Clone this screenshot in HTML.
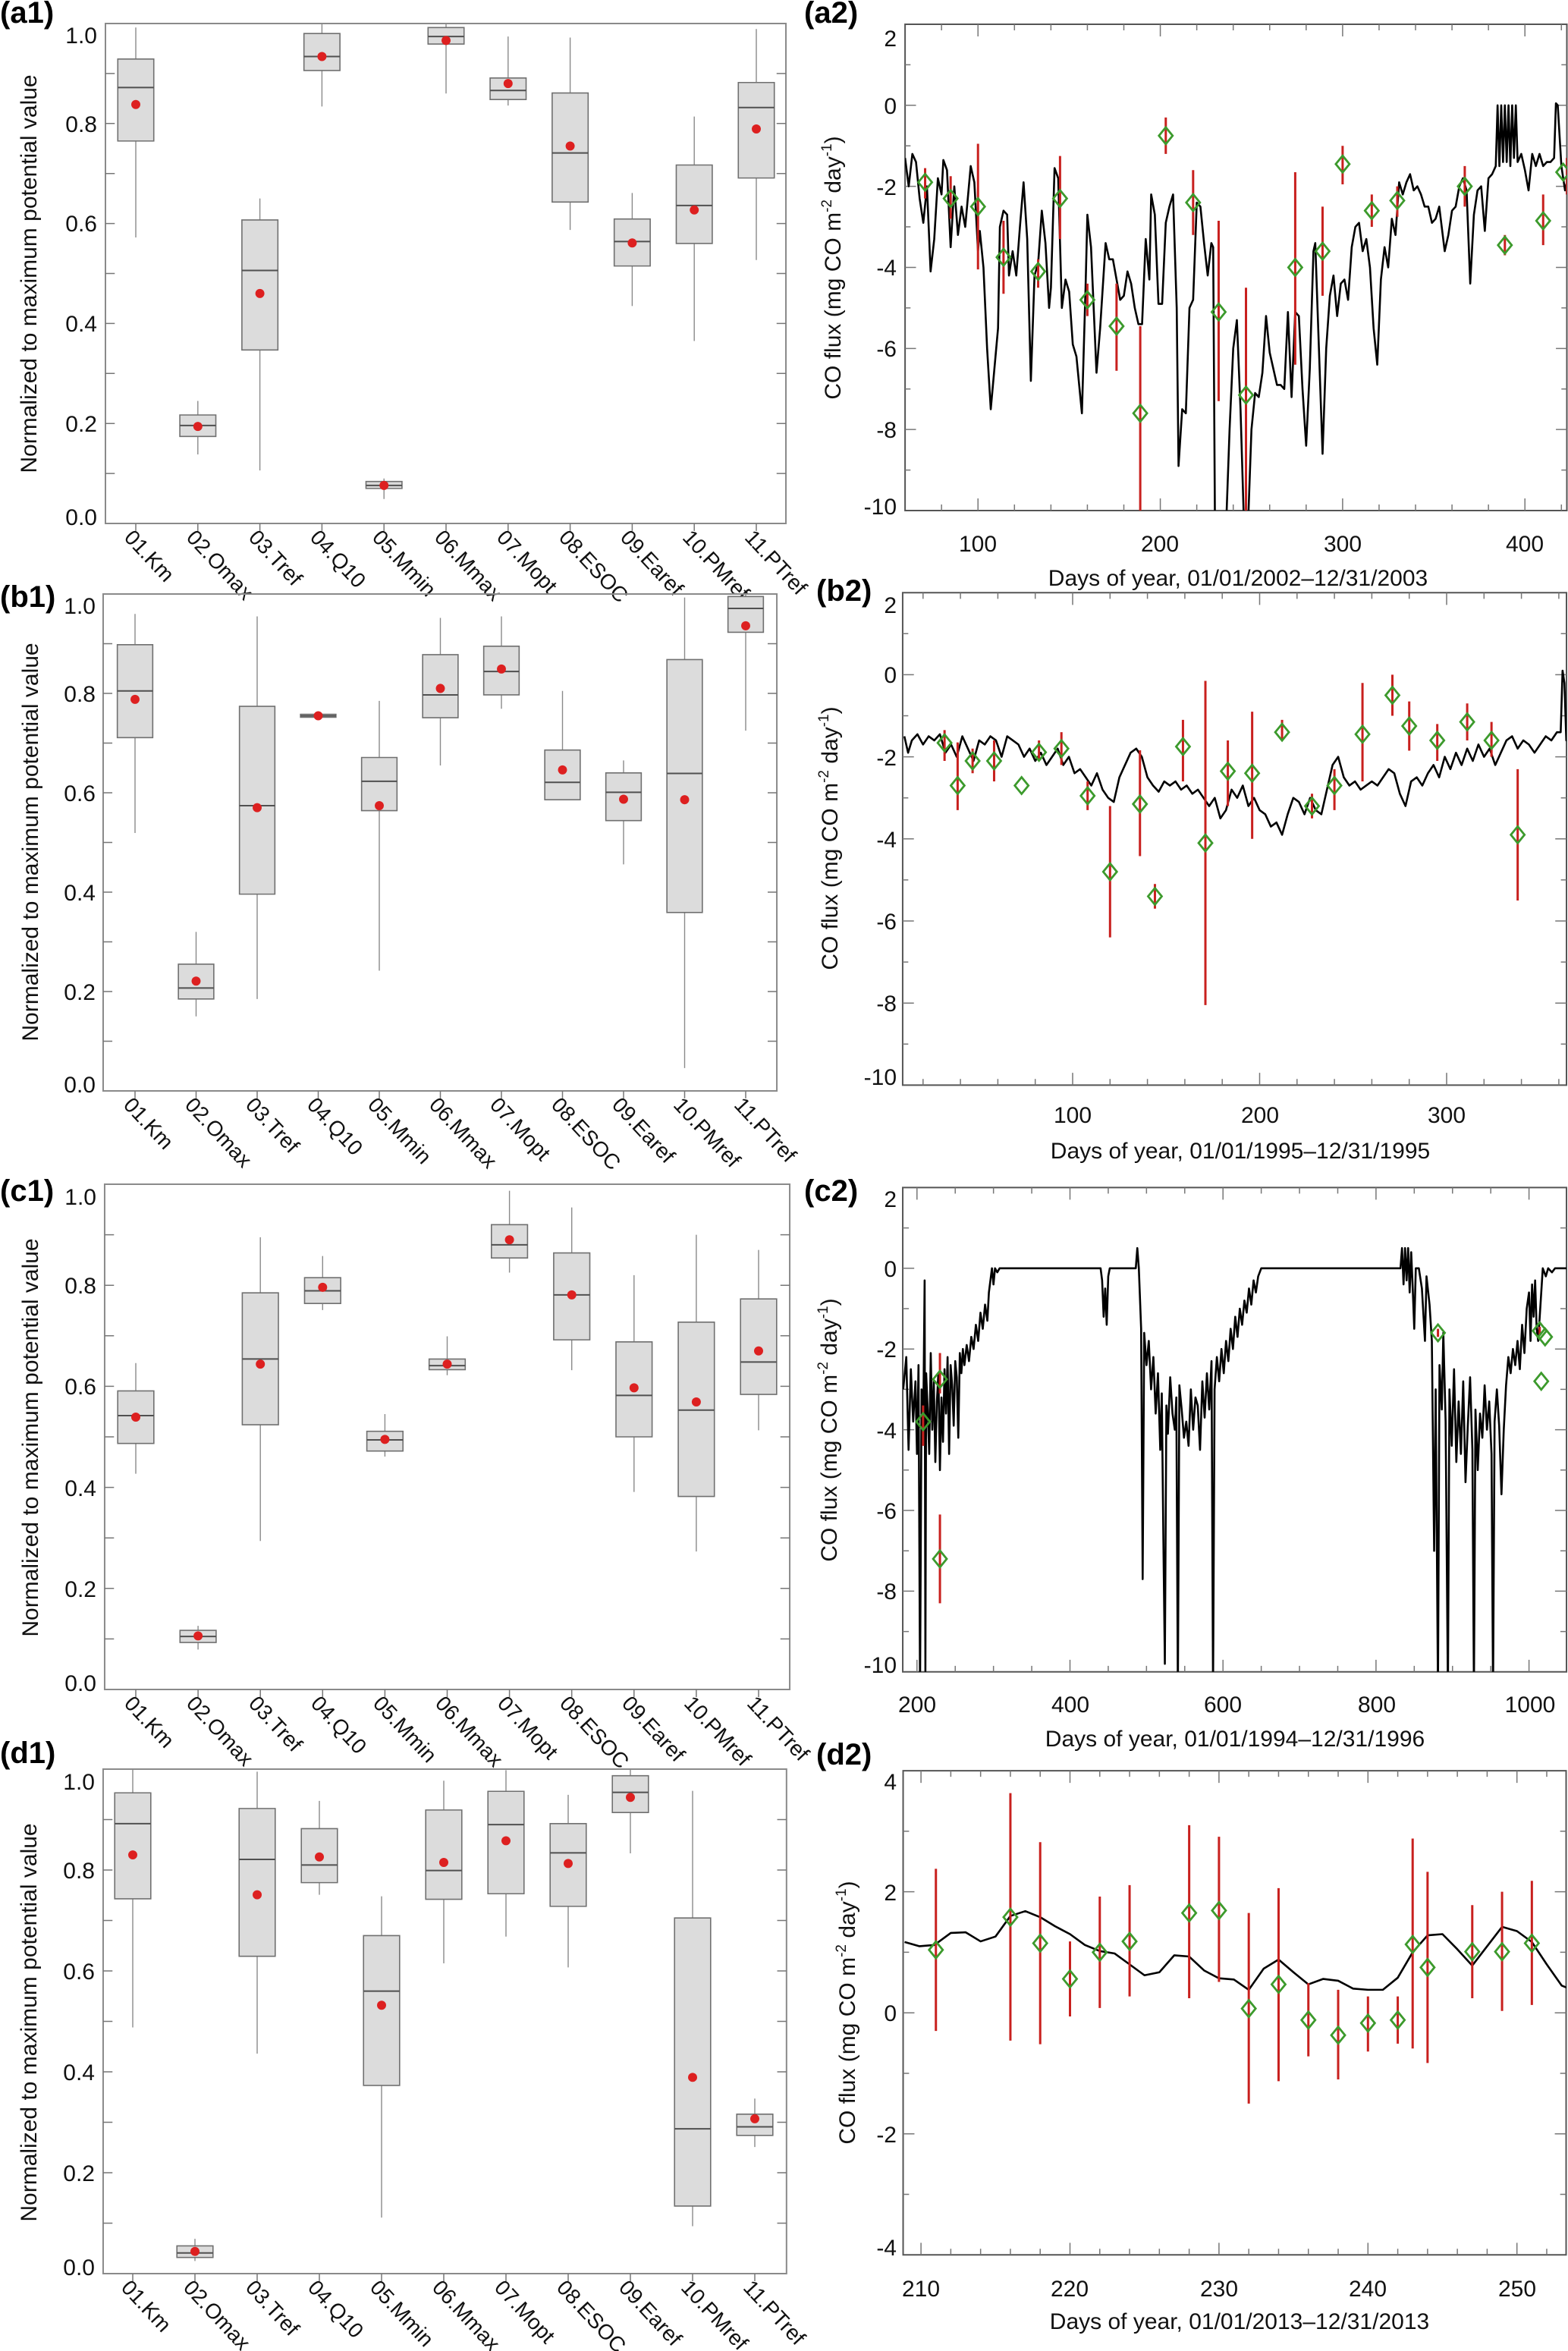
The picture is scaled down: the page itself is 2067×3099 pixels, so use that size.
<!DOCTYPE html>
<html><head><meta charset="utf-8"><style>
html,body{margin:0;padding:0;background:#fff;}
svg{display:block;font-family:"Liberation Sans",Arial,sans-serif;}
.fr{fill:none;stroke:#8a8a8a;stroke-width:2;vector-effect:non-scaling-stroke;}
.frk{fill:none;stroke:#555;stroke-width:2;vector-effect:non-scaling-stroke;}
.tk{fill:none;stroke:#777;stroke-width:1.5;vector-effect:non-scaling-stroke;}
.w{fill:none;stroke:#8a8a8a;stroke-width:1.4;vector-effect:non-scaling-stroke;}
.b{fill:#dcdcdc;stroke:#707070;stroke-width:1.6;vector-effect:non-scaling-stroke;}
.m{fill:none;stroke:#505050;stroke-width:2;vector-effect:non-scaling-stroke;}
.d{fill:#dd2020;}
.ln{fill:none;stroke:#000;stroke-width:2.6;stroke-linejoin:round;vector-effect:non-scaling-stroke;}
.er{fill:none;stroke:#c8201e;stroke-width:3;vector-effect:non-scaling-stroke;}
.dm{fill:none;stroke:#3c9a2c;stroke-width:2.8;vector-effect:non-scaling-stroke;}
.yl{font-size:30px;text-anchor:end;fill:#111;}
.xl{font-size:30px;text-anchor:middle;fill:#111;}
.cl{font-size:28px;fill:#111;}
.tt{font-size:30px;text-anchor:middle;fill:#111;}
.pl{font-size:40px;font-weight:bold;fill:#000;}
</style></head><body>
<svg width="2067" height="3099" viewBox="0 0 2067 3099" xmlns="http://www.w3.org/2000/svg">
<defs>
<clipPath id="ca2" clipPathUnits="userSpaceOnUse"><rect x="60" y="-10" width="363" height="12"/></clipPath>
<clipPath id="cb2" clipPathUnits="userSpaceOnUse"><rect x="9.1" y="-10" width="355" height="12"/></clipPath>
<clipPath id="cc2" clipPathUnits="userSpaceOnUse"><rect x="181.4" y="-10" width="867.6" height="12"/></clipPath>
<clipPath id="cd2" clipPathUnits="userSpaceOnUse"><rect x="208.8" y="-4" width="44.5" height="8"/></clipPath>
</defs>

<text class="pl" x="0" y="30">(a1)</text>
<text class="pl" x="1060" y="30">(a2)</text>
<text class="pl" x="0" y="800">(b1)</text>
<text class="pl" x="1076" y="792">(b2)</text>
<text class="pl" x="0" y="1583">(c1)</text>
<text class="pl" x="1060" y="1583">(c2)</text>
<text class="pl" x="0" y="2324">(d1)</text>
<text class="pl" x="1076" y="2326">(d2)</text>

<!-- A1 -->
<g transform="translate(97.2,690) scale(81.8,-659)">
<rect class="fr" x="0.511" y="0" width="10.966" height="1"/>
<path class="tk" d="M0.511,0.1h0.15M0.511,0.2h0.15M0.511,0.3h0.15M0.511,0.4h0.15M0.511,0.5h0.15M0.511,0.6h0.15M0.511,0.7h0.15M0.511,0.8h0.15M0.511,0.9h0.15M11.477,0.1h-0.15M11.477,0.2h-0.15M11.477,0.3h-0.15M11.477,0.4h-0.15M11.477,0.5h-0.15M11.477,0.6h-0.15M11.477,0.7h-0.15M11.477,0.8h-0.15M11.477,0.9h-0.15M1,0v-0.015M2,0v-0.015M3,0v-0.015M4,0v-0.015M5,0v-0.015M6,0v-0.015M7,0v-0.015M8,0v-0.015M9,0v-0.015M10,0v-0.015M11,0v-0.015"/>
<path class="w" d="M1,.572V.765M1,.929V.992 M2,.138V.174M2,.217V.245 M3,.106V.347M3,.607V.65 M4,.834V.906M4,.98V1 M5,.049V.07M5,.084V.09 M6,.86V.959M6,.992V1 M7,.836V.848M7,.891V.974 M8,.587V.643M8,.861V.972 M9,.435V.515M9,.609V.661 M10,.365V.56M10,.717V.814 M11,.527V.691M11,.882V.989"/>
<path class="b" d="M.71,.765H1.29V.929H.71Z M1.71,.174H2.29V.217H1.71Z M2.71,.347H3.29V.607H2.71Z M3.71,.906H4.29V.98H3.71Z M4.71,.07H5.29V.084H4.71Z M5.71,.959H6.29V.992H5.71Z M6.71,.848H7.29V.891H6.71Z M7.71,.643H8.29V.861H7.71Z M8.71,.515H9.29V.609H8.71Z M9.71,.56H10.29V.717H9.71Z M10.71,.691H11.29V.882H10.71Z"/>
<path class="m" d="M.71,.872h.58M1.71,.196h.58M2.71,.506h.58M3.71,.934h.58M4.71,.076h.58M5.71,.974h.58M6.71,.866h.58M7.71,.741h.58M8.71,.564h.58M9.71,.636h.58M10.71,.832h.58"/>
<g class="d"><ellipse cx="1" cy=".838" rx=".073" ry=".0091"/><ellipse cx="2" cy=".194" rx=".073" ry=".0091"/><ellipse cx="3" cy=".46" rx=".073" ry=".0091"/><ellipse cx="4" cy=".934" rx=".073" ry=".0091"/><ellipse cx="5" cy=".076" rx=".073" ry=".0091"/><ellipse cx="6" cy=".966" rx=".073" ry=".0091"/><ellipse cx="7" cy=".88" rx=".073" ry=".0091"/><ellipse cx="8" cy=".755" rx=".073" ry=".0091"/><ellipse cx="9" cy=".561" rx=".073" ry=".0091"/><ellipse cx="10" cy=".627" rx=".073" ry=".0091"/><ellipse cx="11" cy=".789" rx=".073" ry=".0091"/></g>
</g>
<g class="yl"><text x="128" y="692">0.0</text><text x="128" y="569">0.2</text><text x="128" y="437">0.4</text><text x="128" y="305">0.6</text><text x="128" y="174">0.8</text><text x="128" y="57">1.0</text></g>
<text class="tt" transform="translate(48,361) rotate(-90)">Normalized to maximum potential value</text>
<g class="cl">
<text transform="translate(177,696) rotate(47)" dy="20">01.Km</text>
<text transform="translate(259,696) rotate(47)" dy="20">02.Omax</text>
<text transform="translate(341,696) rotate(47)" dy="20">03.Tref</text>
<text transform="translate(422,696) rotate(47)" dy="20">04.Q10</text>
<text transform="translate(504,696) rotate(47)" dy="20">05.Mmin</text>
<text transform="translate(586,696) rotate(47)" dy="20">06.Mmax</text>
<text transform="translate(668,696) rotate(47)" dy="20">07.Mopt</text>
<text transform="translate(750,696) rotate(47)" dy="20">08.ESOC</text>
<text transform="translate(831,696) rotate(47)" dy="20">09.Earef</text>
<text transform="translate(913,696) rotate(47)" dy="20">10.PMref</text>
<text transform="translate(995,696) rotate(47)" dy="20">11.PTref</text>
</g>

<!-- B1 -->
<g transform="translate(97.5,1438) scale(80.5,-655)">
<rect class="fr" x="0.478" y="0" width="11.032" height="1"/>
<path class="tk" d="M0.478,0.1h0.15M0.478,0.2h0.15M0.478,0.3h0.15M0.478,0.4h0.15M0.478,0.5h0.15M0.478,0.6h0.15M0.478,0.7h0.15M0.478,0.8h0.15M0.478,0.9h0.15M11.51,0.1h-0.15M11.51,0.2h-0.15M11.51,0.3h-0.15M11.51,0.4h-0.15M11.51,0.5h-0.15M11.51,0.6h-0.15M11.51,0.7h-0.15M11.51,0.8h-0.15M11.51,0.9h-0.15M1,0v-0.015M2,0v-0.015M3,0v-0.015M4,0v-0.015M5,0v-0.015M6,0v-0.015M7,0v-0.015M8,0v-0.015M9,0v-0.015M10,0v-0.015M11,0v-0.015"/>
<path class="w" d="M1,.519V.711M1,.898V.96 M2,.15V.185M2,.255V.32 M3,.185V.396M3,.774V.955 M5,.242V.564M5,.671V.785 M6,.655V.751M6,.878V.952 M7,.769V.797M7,.895V.955 M8,.586V.586M8,.686V.805 M9,.456V.544M9,.64V.665 M10,.046V.359M10,.868V.993 M11,.725V.923M11,.995V1"/>
<path class="b" d="M.71,.711H1.29V.898H.71Z M1.71,.185H2.29V.255H1.71Z M2.71,.396H3.29V.774H2.71Z M3.71,.752H4.29V.758H3.71Z M4.71,.564H5.29V.671H4.71Z M5.71,.751H6.29V.878H5.71Z M6.71,.797H7.29V.895H6.71Z M7.71,.586H8.29V.686H7.71Z M8.71,.544H9.29V.64H8.71Z M9.71,.359H10.29V.868H9.71Z M10.71,.923H11.29V.995H10.71Z"/>
<path class="m" d="M.71,.805h.58M1.71,.207h.58M2.71,.574h.58M3.71,.755h.58M4.71,.623h.58M5.71,.797h.58M6.71,.844h.58M7.71,.621h.58M8.71,.601h.58M9.71,.639h.58M10.71,.971h.58"/>
<g class="d"><ellipse cx="1" cy=".788" rx=".074" ry=".0092"/><ellipse cx="2" cy=".221" rx=".074" ry=".0092"/><ellipse cx="3" cy=".57" rx=".074" ry=".0092"/><ellipse cx="4" cy=".755" rx=".074" ry=".0092"/><ellipse cx="5" cy=".574" rx=".074" ry=".0092"/><ellipse cx="6" cy=".81" rx=".074" ry=".0092"/><ellipse cx="7" cy=".849" rx=".074" ry=".0092"/><ellipse cx="8" cy=".646" rx=".074" ry=".0092"/><ellipse cx="9" cy=".587" rx=".074" ry=".0092"/><ellipse cx="10" cy=".586" rx=".074" ry=".0092"/><ellipse cx="11" cy=".936" rx=".074" ry=".0092"/></g>
</g>
<g class="yl"><text x="126" y="1440">0.0</text><text x="126" y="1318">0.2</text><text x="126" y="1187">0.4</text><text x="126" y="1056">0.6</text><text x="126" y="925">0.8</text><text x="126" y="809">1.0</text></g>
<text class="tt" transform="translate(50,1110) rotate(-90)">Normalized to maximum potential value</text>
<g class="cl">
<text transform="translate(176,1444) rotate(47)" dy="20">01.Km</text>
<text transform="translate(257,1444) rotate(47)" dy="20">02.Omax</text>
<text transform="translate(337,1444) rotate(47)" dy="20">03.Tref</text>
<text transform="translate(418,1444) rotate(47)" dy="20">04.Q10</text>
<text transform="translate(498,1444) rotate(47)" dy="20">05.Mmin</text>
<text transform="translate(579,1444) rotate(47)" dy="20">06.Mmax</text>
<text transform="translate(659,1444) rotate(47)" dy="20">07.Mopt</text>
<text transform="translate(740,1444) rotate(47)" dy="20">08.ESOC</text>
<text transform="translate(820,1444) rotate(47)" dy="20">09.Earef</text>
<text transform="translate(901,1444) rotate(47)" dy="20">10.PMref</text>
<text transform="translate(981,1444) rotate(47)" dy="20">11.PTref</text>
</g>

<!-- C1 -->
<g transform="translate(96.9,2227) scale(82.1,-666)">
<rect class="fr" x="0.5" y="0" width="11" height="1"/>
<path class="tk" d="M0.5,0.1h0.15M0.5,0.2h0.15M0.5,0.3h0.15M0.5,0.4h0.15M0.5,0.5h0.15M0.5,0.6h0.15M0.5,0.7h0.15M0.5,0.8h0.15M0.5,0.9h0.15M11.5,0.1h-0.15M11.5,0.2h-0.15M11.5,0.3h-0.15M11.5,0.4h-0.15M11.5,0.5h-0.15M11.5,0.6h-0.15M11.5,0.7h-0.15M11.5,0.8h-0.15M11.5,0.9h-0.15M1,0v-0.015M2,0v-0.015M3,0v-0.015M4,0v-0.015M5,0v-0.015M6,0v-0.015M7,0v-0.015M8,0v-0.015M9,0v-0.015M10,0v-0.015M11,0v-0.015"/>
<path class="w" d="M1,.427V.487M1,.591V.646 M2,.079V.093M2,.117V.126 M3,.294V.524M3,.785V.895 M4,.751V.764M4,.815V.858 M5,.461V.472M5,.511V.545 M6,.622V.633M6,.654V.699 M7,.825V.854M7,.92V.987 M8,.632V.692M8,.864V.954 M9,.391V.5M9,.688V.82 M10,.273V.382M10,.727V.9 M11,.513V.584M11,.773V.87"/>
<path class="b" d="M.71,.487H1.29V.591H.71Z M1.71,.093H2.29V.117H1.71Z M2.71,.524H3.29V.785H2.71Z M3.71,.764H4.29V.815H3.71Z M4.71,.472H5.29V.511H4.71Z M5.71,.633H6.29V.654H5.71Z M6.71,.854H7.29V.92H6.71Z M7.71,.692H8.29V.864H7.71Z M8.71,.5H9.29V.688H8.71Z M9.71,.382H10.29V.727H9.71Z M10.71,.584H11.29V.773H10.71Z"/>
<path class="m" d="M.71,.542h.58M1.71,.105h.58M2.71,.654h.58M3.71,.789h.58M4.71,.494h.58M5.71,.641h.58M6.71,.88h.58M7.71,.781h.58M8.71,.582h.58M9.71,.553h.58M10.71,.648h.58"/>
<g class="d"><ellipse cx="1" cy=".539" rx=".073" ry=".009"/><ellipse cx="2" cy=".106" rx=".073" ry=".009"/><ellipse cx="3" cy=".644" rx=".073" ry=".009"/><ellipse cx="4" cy=".796" rx=".073" ry=".009"/><ellipse cx="5" cy=".495" rx=".073" ry=".009"/><ellipse cx="6" cy=".644" rx=".073" ry=".009"/><ellipse cx="7" cy=".89" rx=".073" ry=".009"/><ellipse cx="8" cy=".781" rx=".073" ry=".009"/><ellipse cx="9" cy=".597" rx=".073" ry=".009"/><ellipse cx="10" cy=".569" rx=".073" ry=".009"/><ellipse cx="11" cy=".67" rx=".073" ry=".009"/></g>
</g>
<g class="yl"><text x="127" y="2229">0.0</text><text x="127" y="2105">0.2</text><text x="127" y="1972">0.4</text><text x="127" y="1838">0.6</text><text x="127" y="1705">0.8</text><text x="127" y="1588">1.0</text></g>
<text class="tt" transform="translate(50,1895) rotate(-90)">Normalized to maximum potential value</text>
<g class="cl">
<text transform="translate(177,2233) rotate(47)" dy="20">01.Km</text>
<text transform="translate(259,2233) rotate(47)" dy="20">02.Omax</text>
<text transform="translate(341,2233) rotate(47)" dy="20">03.Tref</text>
<text transform="translate(423,2233) rotate(47)" dy="20">04.Q10</text>
<text transform="translate(505,2233) rotate(47)" dy="20">05.Mmin</text>
<text transform="translate(587,2233) rotate(47)" dy="20">06.Mmax</text>
<text transform="translate(669,2233) rotate(47)" dy="20">07.Mopt</text>
<text transform="translate(751,2233) rotate(47)" dy="20">08.ESOC</text>
<text transform="translate(833,2233) rotate(47)" dy="20">09.Earef</text>
<text transform="translate(915,2233) rotate(47)" dy="20">10.PMref</text>
<text transform="translate(998,2233) rotate(47)" dy="20">11.PTref</text>
</g>

<!-- D1 -->
<g transform="translate(93,2997) scale(82,-665)">
<rect class="fr" x="0.524" y="0" width="10.986" height="1"/>
<path class="tk" d="M0.524,0.1h0.15M0.524,0.2h0.15M0.524,0.3h0.15M0.524,0.4h0.15M0.524,0.5h0.15M0.524,0.6h0.15M0.524,0.7h0.15M0.524,0.8h0.15M0.524,0.9h0.15M11.51,0.1h-0.15M11.51,0.2h-0.15M11.51,0.3h-0.15M11.51,0.4h-0.15M11.51,0.5h-0.15M11.51,0.6h-0.15M11.51,0.7h-0.15M11.51,0.8h-0.15M11.51,0.9h-0.15M1,0v-0.015M2,0v-0.015M3,0v-0.015M4,0v-0.015M5,0v-0.015M6,0v-0.015M7,0v-0.015M8,0v-0.015M9,0v-0.015M10,0v-0.015M11,0v-0.015"/>
<path class="w" d="M1,.488V.743M1,.953V1 M2,.025V.032M2,.055V.069 M3,.436V.629M3,.922V.995 M4,.751V.775M4,.882V.937 M5,.111V.373M5,.67V.748 M6,.615V.742M6,.919V.977 M7,.668V.753M7,.956V.998 M8,.607V.728M8,.892V.949 M9,.833V.914M9,.987V1 M10,.094V.134M10,.705V.957 M11,.251V.274M11,.316V.347"/>
<path class="b" d="M.71,.743H1.29V.953H.71Z M1.71,.032H2.29V.055H1.71Z M2.71,.629H3.29V.922H2.71Z M3.71,.775H4.29V.882H3.71Z M4.71,.373H5.29V.67H4.71Z M5.71,.742H6.29V.919H5.71Z M6.71,.753H7.29V.956H6.71Z M7.71,.728H8.29V.892H7.71Z M8.71,.914H9.29V.987H8.71Z M9.71,.134H10.29V.705H9.71Z M10.71,.274H11.29V.316H10.71Z"/>
<path class="m" d="M.71,.892h.58M1.71,.041h.58M2.71,.821h.58M3.71,.81h.58M4.71,.56h.58M5.71,.799h.58M6.71,.89h.58M7.71,.834h.58M8.71,.954h.58M9.71,.287h.58M10.71,.291h.58"/>
<g class="d"><ellipse cx="1" cy=".83" rx=".073" ry=".009"/><ellipse cx="2" cy=".044" rx=".073" ry=".009"/><ellipse cx="3" cy=".751" rx=".073" ry=".009"/><ellipse cx="4" cy=".826" rx=".073" ry=".009"/><ellipse cx="5" cy=".532" rx=".073" ry=".009"/><ellipse cx="6" cy=".815" rx=".073" ry=".009"/><ellipse cx="7" cy=".858" rx=".073" ry=".009"/><ellipse cx="8" cy=".813" rx=".073" ry=".009"/><ellipse cx="9" cy=".944" rx=".073" ry=".009"/><ellipse cx="10" cy=".389" rx=".073" ry=".009"/><ellipse cx="11" cy=".307" rx=".073" ry=".009"/></g>
</g>
<g class="yl"><text x="125" y="2999">0.0</text><text x="125" y="2875">0.2</text><text x="125" y="2742">0.4</text><text x="125" y="2609">0.6</text><text x="125" y="2476">0.8</text><text x="125" y="2359">1.0</text></g>
<text class="tt" transform="translate(48,2666) rotate(-90)">Normalized to maximum potential value</text>
<g class="cl">
<text transform="translate(173,3003) rotate(47)" dy="20">01.Km</text>
<text transform="translate(255,3003) rotate(47)" dy="20">02.Omax</text>
<text transform="translate(337,3003) rotate(47)" dy="20">03.Tref</text>
<text transform="translate(419,3003) rotate(47)" dy="20">04.Q10</text>
<text transform="translate(501,3003) rotate(47)" dy="20">05.Mmin</text>
<text transform="translate(583,3003) rotate(47)" dy="20">06.Mmax</text>
<text transform="translate(665,3003) rotate(47)" dy="20">07.Mopt</text>
<text transform="translate(747,3003) rotate(47)" dy="20">08.ESOC</text>
<text transform="translate(829,3003) rotate(47)" dy="20">09.Earef</text>
<text transform="translate(911,3003) rotate(47)" dy="20">10.PMref</text>
<text transform="translate(993,3003) rotate(47)" dy="20">11.PTref</text>
</g>

<!-- A2 -->
<g transform="translate(1048.9,138.8) scale(2.4033,-53.42)">
<rect class="frk" x="60" y="-10" width="363" height="12"/>
<path class="tk" d="M100,-10v0.3M200,-10v0.3M300,-10v0.3M400,-10v0.3M100,2v-0.3M200,2v-0.3M300,2v-0.3M400,2v-0.3M80,-10v0.15M120,-10v0.15M140,-10v0.15M160,-10v0.15M180,-10v0.15M220,-10v0.15M240,-10v0.15M260,-10v0.15M280,-10v0.15M320,-10v0.15M340,-10v0.15M360,-10v0.15M380,-10v0.15M420,-10v0.15M80,2v-0.15M120,2v-0.15M140,2v-0.15M160,2v-0.15M180,2v-0.15M220,2v-0.15M240,2v-0.15M260,2v-0.15M280,2v-0.15M320,2v-0.15M340,2v-0.15M360,2v-0.15M380,2v-0.15M420,2v-0.15M60,0h6M60,-2h6M60,-4h6M60,-6h6M60,-8h6M60,1h3M60,-1h3M60,-3h3M60,-5h3M60,-7h3M60,-9h3M423,0h-6M423,-2h-6M423,-4h-6M423,-6h-6M423,-8h-6M423,1h-3M423,-1h-3M423,-3h-3M423,-5h-3M423,-7h-3M423,-9h-3"/>
<g clip-path="url(#ca2)">
<polyline class="ln" points="60,-1.3 62,-2 64,-1.2 66,-1.4 68,-2.3 70,-2.9 72,-2 74,-4.1 76,-3.3 78,-1.8 80,-2.2 81,-1.35 83,-1.6 85,-3.5 87,-2 89,-3.2 91,-2.5 93,-3 96,-1.5 98,-1.9 100,-3.6 101,-3.1 103,-4 105,-6 107,-7.5 109,-6.5 111,-5.5 112,-3 114,-2.6 116,-2.7 117,-4.2 119,-3.6 121,-4.2 123,-3 125,-1.9 127,-3.3 129,-6.8 131,-4.2 133,-3.9 135,-2.6 137,-3.4 139,-5 140,-4.5 142,-1.55 144,-1.8 146,-5 148,-4.3 150,-4.6 152,-5.9 154,-6.2 157,-7.6 159,-4.5 160,-2.7 162,-3.5 165,-6.6 167,-5.5 170,-3.4 172,-3.8 174,-3.8 176,-4.3 178,-4.8 180,-4.7 182,-4.1 184,-4.4 186,-5 188,-5.4 190,-5.4 192,-3.3 194,-4.3 195,-2.2 197,-2.7 199,-4.9 201,-4.9 203,-2.9 205,-2.5 207,-2.2 209,-5 210,-8.9 212,-7.5 214,-7.6 216,-5 218,-4.8 220,-2.4 222,-2.5 224,-3.4 226,-4.2 228,-3.4 229,-3.5 230,-10.5 232,-10.5 234,-10.5 236,-10.5 238,-8 240,-6 242,-5.3 244,-7.5 246,-10.5 248,-10.5 250,-8 252,-7.1 254,-7.2 256,-6.6 258,-5.2 260,-6.1 262,-6.5 264,-6.9 266,-6.9 268,-7 270,-5.1 272,-7.2 274,-5.1 276,-5.2 278,-7 280,-8.4 282,-6.5 284,-3.6 285,-3.4 287,-6 289,-8.6 291,-6 293,-4.7 295,-4.2 297,-5.2 299,-4.4 301,-4.3 303,-4.8 305,-3.5 307,-3 309,-2.9 311,-3.6 313,-3.3 315,-4 317,-5.5 319,-6.4 321,-4.3 323,-3.5 325,-4 327,-2.8 329,-3.2 331,-1.9 333,-2.2 335,-1.9 337,-1.7 339,-2.1 341,-2 343,-2.2 345,-2.5 347,-2.5 349,-2.9 351,-2.8 353,-2.5 356,-3.6 358,-3.2 360,-2.6 362,-2.5 364,-2 366,-1.8 368,-2.1 370,-4.4 372,-2.7 374,-2.1 376,-2 378,-3.1 380,-1.8 382,-1.7 384,-1.5 385,0 386,-1.5 387,0 388,-1.4 389,0 390,-1.4 391,0 392,-1.5 393,0 394,-1.3 395,0 396,-1.4 398,-1.2 400,-1.6 402,-2.1 404,-1.2 406,-1.5 408,-1.2 410,-1.5 412,-1.4 414,-1.4 416,-1.3 417,0.05 418,0 420,-1.5 422,-2.1 424,-1.7 426,-1.8"/>
<path class="er" d="M71,-1.55V-2.3M85,-1.75V-2.8M100,-0.95V-4.05M114,-2.85V-4.65M133,-3.8V-4.5M145,-1.25V-3.3M160,-4.4V-5.2M176,-4.4V-6.55M189,-5.45V-10M203,-0.3V-1.2M218,-1.6V-3.2M232,-2.85V-7.3M247,-4.5V-10M274,-1.65V-6.4M289,-2.5V-4.7M300,-1V-1.95M316,-2.2V-3M330,-2V-2.75M367,-1.5V-2.5M389,-3.2V-3.7M410,-2.2V-3.45M423,-1.3V-2.2"/>
<path class="dm" d="M71,-1.9m-3.75,0l3.75,0.206l3.75,-0.206l-3.75,-0.206z M85,-2.3m-3.75,0l3.75,0.206l3.75,-0.206l-3.75,-0.206z M100,-2.5m-3.75,0l3.75,0.206l3.75,-0.206l-3.75,-0.206z M114,-3.75m-3.75,0l3.75,0.206l3.75,-0.206l-3.75,-0.206z M133,-4.1m-3.75,0l3.75,0.206l3.75,-0.206l-3.75,-0.206z M145,-2.3m-3.75,0l3.75,0.206l3.75,-0.206l-3.75,-0.206z M160,-4.8m-3.75,0l3.75,0.206l3.75,-0.206l-3.75,-0.206z M176,-5.45m-3.75,0l3.75,0.206l3.75,-0.206l-3.75,-0.206z M189,-7.6m-3.75,0l3.75,0.206l3.75,-0.206l-3.75,-0.206z M203,-0.75m-3.75,0l3.75,0.206l3.75,-0.206l-3.75,-0.206z M218,-2.4m-3.75,0l3.75,0.206l3.75,-0.206l-3.75,-0.206z M232,-5.1m-3.75,0l3.75,0.206l3.75,-0.206l-3.75,-0.206z M247,-7.15m-3.75,0l3.75,0.206l3.75,-0.206l-3.75,-0.206z M274,-4m-3.75,0l3.75,0.206l3.75,-0.206l-3.75,-0.206z M289,-3.6m-3.75,0l3.75,0.206l3.75,-0.206l-3.75,-0.206z M300,-1.45m-3.75,0l3.75,0.206l3.75,-0.206l-3.75,-0.206z M316,-2.6m-3.75,0l3.75,0.206l3.75,-0.206l-3.75,-0.206z M330,-2.35m-3.75,0l3.75,0.206l3.75,-0.206l-3.75,-0.206z M367,-2m-3.75,0l3.75,0.206l3.75,-0.206l-3.75,-0.206z M389,-3.45m-3.75,0l3.75,0.206l3.75,-0.206l-3.75,-0.206z M410,-2.85m-3.75,0l3.75,0.206l3.75,-0.206l-3.75,-0.206z M421,-1.65m-3.75,0l3.75,0.206l3.75,-0.206l-3.75,-0.206z"/>
</g>
</g>
<g class="yl"><text x="1182" y="61">2</text><text x="1182" y="150">0</text><text x="1182" y="257">-2</text><text x="1182" y="363">-4</text><text x="1182" y="470">-6</text><text x="1182" y="577">-8</text><text x="1182" y="678">-10</text></g>
<g class="xl"><text x="1289" y="727">100</text><text x="1529" y="727">200</text><text x="1770" y="727">300</text><text x="2010" y="727">400</text></g>
<text class="tt" x="1632" y="772">Days of year, 01/01/2002–12/31/2003</text>
<text class="tt" transform="translate(1108,353) rotate(-90)">CO flux (mg CO m<tspan dy="-12" font-size="19">-2</tspan><tspan dy="12"> day</tspan><tspan dy="-12" font-size="19">-1</tspan><tspan dy="12">)</tspan></text>

<!-- B2 -->
<g transform="translate(1167.5,889.4) scale(2.465,-54.1)">
<rect class="frk" x="9.1" y="-10" width="355" height="12"/>
<path class="tk" d="M100,-10v0.3M200,-10v0.3M300,-10v0.3M100,2v-0.3M200,2v-0.3M300,2v-0.3M20,-10v0.15M40,-10v0.15M60,-10v0.15M80,-10v0.15M120,-10v0.15M140,-10v0.15M160,-10v0.15M180,-10v0.15M220,-10v0.15M240,-10v0.15M260,-10v0.15M280,-10v0.15M320,-10v0.15M340,-10v0.15M360,-10v0.15M20,2v-0.15M40,2v-0.15M60,2v-0.15M80,2v-0.15M120,2v-0.15M140,2v-0.15M160,2v-0.15M180,2v-0.15M220,2v-0.15M240,2v-0.15M260,2v-0.15M280,2v-0.15M320,2v-0.15M340,2v-0.15M360,2v-0.15M9.1,0h6M9.1,-2h6M9.1,-4h6M9.1,-6h6M9.1,-8h6M9.1,1h3M9.1,-1h3M9.1,-3h3M9.1,-5h3M9.1,-7h3M9.1,-9h3M364.1,0h-6M364.1,-2h-6M364.1,-4h-6M364.1,-6h-6M364.1,-8h-6M364.1,1h-3M364.1,-1h-3M364.1,-3h-3M364.1,-5h-3M364.1,-7h-3M364.1,-9h-3"/>
<g clip-path="url(#cb2)">
<polyline class="ln" points="10,-1.5 12,-1.9 14,-1.6 17,-1.45 20,-1.7 23,-1.5 26,-1.6 29,-1.45 32,-1.9 35,-1.7 38,-2 41,-1.5 44,-1.8 47,-2.1 50,-1.6 53,-1.7 56,-1.5 59,-1.6 62,-2 65,-1.5 68,-1.6 71,-1.7 74,-2 77,-1.8 80,-2.1 83,-1.9 86,-2.2 89,-2 92,-1.8 95,-2.2 98,-2 101,-2.4 104,-2.3 107,-2.5 110,-2.7 113,-2.4 116,-2.8 119,-3 122,-3.1 125,-2.5 128,-2.2 131,-1.9 134,-1.8 137,-2 140,-2.5 143,-2.7 146,-2.85 149,-2.6 152,-2.7 155,-2.6 158,-2.8 161,-2.7 164,-2.9 167,-2.8 170,-3 173,-3.2 176,-3 179,-3.5 182,-3.3 185,-2.8 188,-3 191,-2.7 194,-3.2 197,-3 200,-3.3 203,-3.4 206,-3.7 209,-3.6 212,-3.9 215,-3.4 218,-3 221,-3.1 224,-3.4 227,-3 230,-3.3 233,-3.4 236,-2.8 239,-2.2 242,-2 245,-2.5 248,-2.7 251,-2.6 254,-2.8 257,-2.7 260,-2.6 263,-2.7 266,-2.5 269,-2.3 272,-2.4 275,-2.9 278,-3.2 281,-2.6 284,-2.5 287,-2.7 290,-2.4 293,-2.2 296,-2.5 299,-2 302,-2.3 305,-1.9 308,-2.2 311,-1.8 314,-2.1 317,-1.7 320,-2 323,-1.8 326,-2.2 329,-1.9 332,-1.6 335,-1.5 338,-1.8 341,-1.6 344,-1.7 347,-1.9 350,-1.7 353,-1.5 356,-1.6 359,-1.4 361,-1.4 362,0.1 363,-0.2 364,-1.6 366,-1.6"/>
<path class="er" d="M31.5,-1.35V-2.1M38.5,-1.65V-3.3M46.5,-1.8V-2.4M58,-1.6V-2.6M82,-1.6V-2.1M94,-1.4V-2.2M108,-2.6V-3.3M120,-3.2V-6.4M136,-1.84V-4.42M144,-5.1V-5.7M159,-1.1V-2.6M171,-0.15V-8.05M183,-1.6V-3.2M196,-0.9V-4M212,-1.1V-1.6M228,-2.9V-3.5M240,-2.3V-3.3M255,-0.2V-2.6M271,0V-1M280,-0.65V-1.85M295,-1.2V-2.1M311,-0.7V-1.6M324,-1.15V-2M338,-2.3V-5.5"/>
<path class="dm" d="M31.5,-1.66m-3.65,0l3.65,0.203l3.65,-0.203l-3.65,-0.203z M38.5,-2.7m-3.65,0l3.65,0.203l3.65,-0.203l-3.65,-0.203z M46.5,-2.1m-3.65,0l3.65,0.203l3.65,-0.203l-3.65,-0.203z M58,-2.1m-3.65,0l3.65,0.203l3.65,-0.203l-3.65,-0.203z M72.7,-2.7m-3.65,0l3.65,0.203l3.65,-0.203l-3.65,-0.203z M82,-1.89m-3.65,0l3.65,0.203l3.65,-0.203l-3.65,-0.203z M94,-1.8m-3.65,0l3.65,0.203l3.65,-0.203l-3.65,-0.203z M108,-2.95m-3.65,0l3.65,0.203l3.65,-0.203l-3.65,-0.203z M120,-4.8m-3.65,0l3.65,0.203l3.65,-0.203l-3.65,-0.203z M136,-3.15m-3.65,0l3.65,0.203l3.65,-0.203l-3.65,-0.203z M144,-5.4m-3.65,0l3.65,0.203l3.65,-0.203l-3.65,-0.203z M159,-1.75m-3.65,0l3.65,0.203l3.65,-0.203l-3.65,-0.203z M171,-4.1m-3.65,0l3.65,0.203l3.65,-0.203l-3.65,-0.203z M183,-2.35m-3.65,0l3.65,0.203l3.65,-0.203l-3.65,-0.203z M196,-2.4m-3.65,0l3.65,0.203l3.65,-0.203l-3.65,-0.203z M212,-1.4m-3.65,0l3.65,0.203l3.65,-0.203l-3.65,-0.203z M228,-3.2m-3.65,0l3.65,0.203l3.65,-0.203l-3.65,-0.203z M240,-2.7m-3.65,0l3.65,0.203l3.65,-0.203l-3.65,-0.203z M255,-1.45m-3.65,0l3.65,0.203l3.65,-0.203l-3.65,-0.203z M271,-0.5m-3.65,0l3.65,0.203l3.65,-0.203l-3.65,-0.203z M280,-1.25m-3.65,0l3.65,0.203l3.65,-0.203l-3.65,-0.203z M295,-1.6m-3.65,0l3.65,0.203l3.65,-0.203l-3.65,-0.203z M311,-1.15m-3.65,0l3.65,0.203l3.65,-0.203l-3.65,-0.203z M324,-1.6m-3.65,0l3.65,0.203l3.65,-0.203l-3.65,-0.203z M338,-3.9m-3.65,0l3.65,0.203l3.65,-0.203l-3.65,-0.203z"/>
</g>
</g>
<g class="yl"><text x="1182" y="808">2</text><text x="1182" y="900">0</text><text x="1182" y="1009">-2</text><text x="1182" y="1117">-4</text><text x="1182" y="1225">-6</text><text x="1182" y="1333">-8</text><text x="1182" y="1430">-10</text></g>
<g class="xl"><text x="1414" y="1480">100</text><text x="1661" y="1480">200</text><text x="1907" y="1480">300</text></g>
<text class="tt" x="1635" y="1527">Days of year, 01/01/1995–12/31/1995</text>
<text class="tt" transform="translate(1104,1105) rotate(-90)">CO flux (mg CO m<tspan dy="-12" font-size="19">-2</tspan><tspan dy="12"> day</tspan><tspan dy="-12" font-size="19">-1</tspan><tspan dy="12">)</tspan></text>

<!-- C2 -->
<g transform="translate(1007.1,1671.8) scale(1.0085,-53.2)">
<rect class="frk" x="181.4" y="-10" width="867.6" height="12"/>
<path class="tk" d="M200,-10v0.3M400,-10v0.3M600,-10v0.3M800,-10v0.3M1000,-10v0.3M200,2v-0.3M400,2v-0.3M600,2v-0.3M800,2v-0.3M1000,2v-0.3M250,-10v0.15M300,-10v0.15M350,-10v0.15M450,-10v0.15M500,-10v0.15M550,-10v0.15M650,-10v0.15M700,-10v0.15M750,-10v0.15M850,-10v0.15M900,-10v0.15M950,-10v0.15M250,2v-0.15M300,2v-0.15M350,2v-0.15M450,2v-0.15M500,2v-0.15M550,2v-0.15M650,2v-0.15M700,2v-0.15M750,2v-0.15M850,2v-0.15M900,2v-0.15M950,2v-0.15M181.4,0h15M181.4,-2h15M181.4,-4h15M181.4,-6h15M181.4,-8h15M181.4,1h8M181.4,-1h8M181.4,-3h8M181.4,-5h8M181.4,-7h8M181.4,-9h8M1049,0h-15M1049,-2h-15M1049,-4h-15M1049,-6h-15M1049,-8h-15M1049,1h-8M1049,-1h-8M1049,-3h-8M1049,-5h-8M1049,-7h-8M1049,-9h-8"/>
<g clip-path="url(#cc2)">
<polyline class="ln" points="182,-3 186,-2.2 189,-4.5 192,-2.5 195,-3.8 198,-2.8 200,-4.6 202,-2.4 204,-10.5 206,-3 208,-4.2 210,-0.3 211,-10 212,-2.6 214,-3.5 216,-4.6 218,-2.1 220,-4 222,-2.8 224,-4.8 226,-3.3 228,-2.6 230,-5 232,-3.2 234,-4.3 236,-2.5 238,-3.6 240,-2.2 242,-4.6 244,-2.4 246,-2.9 248,-3.9 250,-2.3 252,-2.7 254,-4.2 256,-2.1 258,-2.6 260,-2 262,-2.4 265,-1.9 268,-2.3 271,-1.7 274,-2 277,-1.4 280,-1.8 283,-1.1 286,-1.5 289,-0.9 292,-1.3 294,-0.6 296,-0.3 298,0 300,-0.4 302,0 305,-0.1 308,0 440,0 442,-0.3 444,-1.2 446,-0.5 448,-1.4 450,-0.2 452,0 486,0 488,0.5 490,0 493,-1.5 495,-7.7 497,-1.6 500,-2.4 503,-1.8 506,-3 509,-2.2 512,-3.6 515,-2.6 518,-4.5 520,-3.1 522,-6.6 524,-9.8 526,-3.4 528,-4.1 531,-2.7 534,-3.6 537,-4 539,-3.2 541,-10.5 543,-2.9 546,-3.5 549,-4.2 552,-3.8 555,-4.4 558,-3 561,-4 564,-3.2 567,-3.4 570,-4.5 573,-2.8 576,-3.7 579,-2.6 582,-3.5 585,-2.3 587,-10.5 589,-3 592,-2.2 595,-2.8 598,-2 601,-2.6 604,-1.8 607,-2.3 610,-1.5 613,-2 616,-1.2 619,-1.7 622,-1 625,-1.4 628,-0.8 631,-1.1 634,-0.5 637,-0.9 640,-0.3 643,-0.6 646,-0.2 650,0 832,0 834,0.5 836,-0.4 838,0.5 840,-0.3 842,0.5 844,-0.6 846,0.4 848,-0.5 850,-1.5 852,0 856,0 860,-0.5 864,-1.8 866,-0.2 870,-0.9 873,-1.8 876,-7 878,-3 881,-10.5 883,-2.4 886,-3.5 888,-1.6 891,-3.8 894,-10.5 896,-3 899,-4.4 902,-2.5 905,-4.8 908,-3.3 911,-4.6 914,-2.8 917,-5.3 920,-3.9 923,-2.7 926,-4.5 928,-10.5 930,-3.5 933,-5 936,-3.6 939,-4.2 942,-2.9 945,-4 948,-3.3 951,-4.6 953,-10.5 955,-3.8 958,-3 961,-3.9 964,-5.6 967,-4 970,-2.9 973,-2.2 976,-2.6 979,-2 982,-2.4 985,-1.8 988,-2.5 991,-1.4 994,-2.1 997,-1 1000,-0.6 1002,-1.8 1004,-0.4 1006,-1.2 1008,-0.3 1010,-1.5 1012,-1.8 1014,-1.2 1016,-0.6 1018,0 1022,-0.2 1025,0 1030,-0.1 1034,0 1040,0 1049,0"/>
<path class="er" d="M208,-3.4V-4.4M230,-2.1V-3.1M230,-6.1V-8.3M881,-1.5V-1.7M1014,-1.45V-1.65"/>
<path class="dm" d="M208,-3.8m-8.9,0l8.9,0.207l8.9,-0.207l-8.9,-0.207z M230,-2.75m-8.9,0l8.9,0.207l8.9,-0.207l-8.9,-0.207z M230,-7.2m-8.9,0l8.9,0.207l8.9,-0.207l-8.9,-0.207z M881,-1.6m-8.9,0l8.9,0.207l8.9,-0.207l-8.9,-0.207z M1014,-1.55m-8.9,0l8.9,0.207l8.9,-0.207l-8.9,-0.207z M1021,-1.7m-8.9,0l8.9,0.207l8.9,-0.207l-8.9,-0.207z M1016,-2.8m-8.9,0l8.9,0.207l8.9,-0.207l-8.9,-0.207z"/>
</g>
</g>
<g class="yl"><text x="1182" y="1591">2</text><text x="1182" y="1683">0</text><text x="1182" y="1789">-2</text><text x="1182" y="1896">-4</text><text x="1182" y="2002">-6</text><text x="1182" y="2108">-8</text><text x="1182" y="2205">-10</text></g>
<g class="xl"><text x="1209" y="2257">200</text><text x="1411" y="2257">400</text><text x="1612" y="2257">600</text><text x="1815" y="2257">800</text><text x="2017" y="2257">1000</text></g>
<text class="tt" x="1628" y="2302">Days of year, 01/01/1994–12/31/1996</text>
<text class="tt" transform="translate(1103,1885) rotate(-90)">CO flux (mg CO m<tspan dy="-12" font-size="19">-2</tspan><tspan dy="12"> day</tspan><tspan dy="-12" font-size="19">-1</tspan><tspan dy="12">)</tspan></text>

<!-- D2 -->
<g transform="translate(-2910.3,2653.2) scale(19.64,-79.77)">
<rect class="frk" x="208.8" y="-4" width="44.5" height="8"/>
<path class="tk" d="M210,-4v0.2M220,-4v0.2M230,-4v0.2M240,-4v0.2M250,-4v0.2M210,4v-0.2M220,4v-0.2M230,4v-0.2M240,4v-0.2M250,4v-0.2M212,-4v0.1M214,-4v0.1M216,-4v0.1M218,-4v0.1M222,-4v0.1M224,-4v0.1M226,-4v0.1M228,-4v0.1M232,-4v0.1M234,-4v0.1M236,-4v0.1M238,-4v0.1M242,-4v0.1M244,-4v0.1M246,-4v0.1M248,-4v0.1M252,-4v0.1M212,4v-0.1M214,4v-0.1M216,4v-0.1M218,4v-0.1M222,4v-0.1M224,4v-0.1M226,4v-0.1M228,4v-0.1M232,4v-0.1M234,4v-0.1M236,4v-0.1M238,4v-0.1M242,4v-0.1M244,4v-0.1M246,4v-0.1M248,4v-0.1M252,4v-0.1M208.8,2h0.76M208.8,0h0.76M208.8,-2h0.76M208.8,3h0.4M208.8,1h0.4M208.8,-1h0.4M208.8,-3h0.4M253.3,2h-0.76M253.3,0h-0.76M253.3,-2h-0.76M253.3,3h-0.4M253.3,1h-0.4M253.3,-1h-0.4M253.3,-3h-0.4"/>
<g clip-path="url(#cd2)">
<polyline class="ln" points="208.9,1.17 209.9,1.1 210.9,1.12 212,1.32 213,1.33 214,1.18 215,1.26 216,1.6 217,1.68 218,1.58 219,1.43 220,1.3 221,1.12 222,1.02 223,0.98 224,0.8 225,0.62 226,0.67 227,0.95 228,0.93 229,0.7 230,0.57 231,0.55 232,0.38 233,0.73 234,0.88 235,0.67 236,0.47 237,0.56 238,0.53 239,0.4 240,0.38 241,0.38 242,0.58 243,1 244,1.28 245,1.3 246,1.05 247,0.78 248,1.1 249,1.42 250,1.35 251,1.17 252,0.8 253,0.45 253.5,0.4"/>
<path class="er" d="M211,2.38V-0.3M216,3.63V-0.46M218,2.82V-0.52M220,1.18V-0.06M222,1.92V0.08M224,2.11V0.27M228,3.1V0.24M230,2.91V0.51M232,1.65V-1.5M234,2.06V-1.13M236,0.49V-0.72M238,0.38V-1.1M240,0.27V-0.64M242,0.27V-0.51M243,2.88V-0.59M244,2.33V-0.83M247,1.78V0.24M249,2V0.03M251,2.18V0.13"/>
<path class="dm" d="M211,1.04m-0.46,0l0.46,0.138l0.46,-0.138l-0.46,-0.138z M216,1.58m-0.46,0l0.46,0.138l0.46,-0.138l-0.46,-0.138z M218,1.15m-0.46,0l0.46,0.138l0.46,-0.138l-0.46,-0.138z M220,0.56m-0.46,0l0.46,0.138l0.46,-0.138l-0.46,-0.138z M222,1m-0.46,0l0.46,0.138l0.46,-0.138l-0.46,-0.138z M224,1.18m-0.46,0l0.46,0.138l0.46,-0.138l-0.46,-0.138z M228,1.65m-0.46,0l0.46,0.138l0.46,-0.138l-0.46,-0.138z M230,1.69m-0.46,0l0.46,0.138l0.46,-0.138l-0.46,-0.138z M232,0.07m-0.46,0l0.46,0.138l0.46,-0.138l-0.46,-0.138z M234,0.47m-0.46,0l0.46,0.138l0.46,-0.138l-0.46,-0.138z M236,-0.12m-0.46,0l0.46,0.138l0.46,-0.138l-0.46,-0.138z M238,-0.37m-0.46,0l0.46,0.138l0.46,-0.138l-0.46,-0.138z M240,-0.17m-0.46,0l0.46,0.138l0.46,-0.138l-0.46,-0.138z M242,-0.12m-0.46,0l0.46,0.138l0.46,-0.138l-0.46,-0.138z M243,1.13m-0.46,0l0.46,0.138l0.46,-0.138l-0.46,-0.138z M244,0.75m-0.46,0l0.46,0.138l0.46,-0.138l-0.46,-0.138z M247,1.01m-0.46,0l0.46,0.138l0.46,-0.138l-0.46,-0.138z M249,1.01m-0.46,0l0.46,0.138l0.46,-0.138l-0.46,-0.138z M251,1.15m-0.46,0l0.46,0.138l0.46,-0.138l-0.46,-0.138z"/>
</g>
</g>
<g class="yl"><text x="1182" y="2359">4</text><text x="1182" y="2505">2</text><text x="1182" y="2664">0</text><text x="1182" y="2824">-2</text><text x="1182" y="2973">-4</text></g>
<g class="xl"><text x="1214" y="3027">210</text><text x="1410" y="3027">220</text><text x="1607" y="3027">230</text><text x="1803" y="3027">240</text><text x="2000" y="3027">250</text></g>
<text class="tt" x="1634" y="3070">Days of year, 01/01/2013–12/31/2013</text>
<text class="tt" transform="translate(1127,2653) rotate(-90)">CO flux (mg CO m<tspan dy="-12" font-size="19">-2</tspan><tspan dy="12"> day</tspan><tspan dy="-12" font-size="19">-1</tspan><tspan dy="12">)</tspan></text>
</svg>
</body></html>
